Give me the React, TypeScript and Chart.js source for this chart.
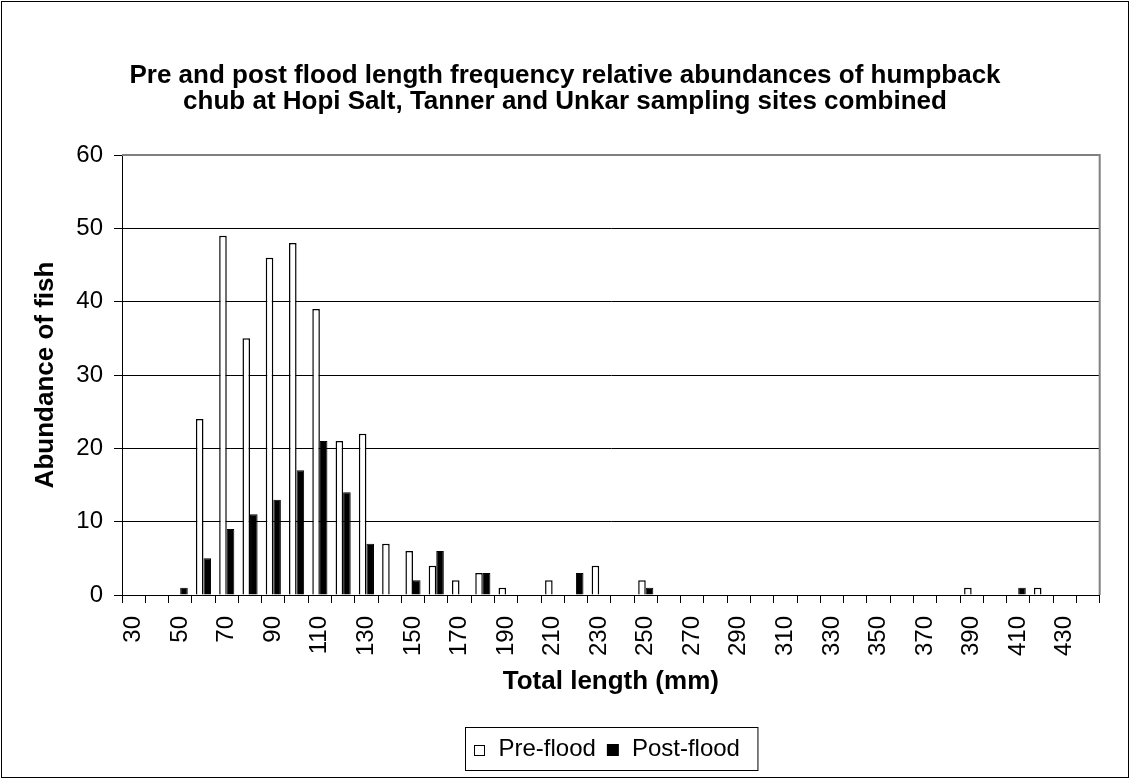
import React, { useEffect, useRef } from 'react';
import { Chart, registerables } from 'chart.js';

Chart.register(...registerables);

const lengthClasses = [30, 40, 50, 60, 70, 80, 90, 100, 110, 120, 130, 140, 150, 160, 170, 180, 190, 200, 210, 220, 230, 240, 250, 260, 270, 280, 290, 300, 310, 320, 330, 340, 350, 360, 370, 380, 390, 400, 410, 420, 430, 440];
const preFlood = [0, 0, 0, 24, 49, 35, 46, 48, 39, 21, 22, 7, 6, 4, 2, 3, 1, 0, 2, 0, 4, 0, 2, 0, 0, 0, 0, 0, 0, 0, 0, 0, 0, 0, 0, 0, 1, 0, 0, 1, 0, 0];
const postFlood = [0, 0, 1, 5, 9, 11, 13, 17, 21, 14, 7, 0, 2, 6, 0, 3, 0, 0, 0, 3, 0, 0, 1, 0, 0, 0, 0, 0, 0, 0, 0, 0, 0, 0, 0, 0, 0, 0, 1, 0, 0, 0];
const yTickValues = [0, 10, 20, 30, 40, 50, 60];
const seriesNames = ['Pre-flood', 'Post-flood'];
const titleLines = [
  'Pre and post flood length frequency relative abundances of humpback',
  'chub at Hopi Salt, Tanner and Unkar sampling sites combined',
];
const xTitle = 'Total length (mm)';
const yTitle = 'Abundance of fish';

const FONT = "'Liberation Sans', Arial, sans-serif";

const framePlugin = {
  id: 'frame',
  afterDraw(chart: any) {
    const { ctx, chartArea } = chart;
    const { left, right, top, bottom } = chartArea;
    ctx.save();
    // plot area top/right border
    ctx.strokeStyle = '#808080';
    ctx.lineWidth = 2;
    ctx.beginPath();
    ctx.moveTo(left, top);
    ctx.lineTo(right, top);
    ctx.lineTo(right, bottom);
    ctx.stroke();
    // outer border
    ctx.strokeStyle = '#000';
    ctx.lineWidth = 1;
    ctx.strokeRect(1.5, 1.5, chart.width - 3, chart.height - 3);

    // chart title
    ctx.fillStyle = '#000';
    ctx.textAlign = 'center';
    ctx.textBaseline = 'middle';
    ctx.font = `bold 26px ${FONT}`;
    ctx.fillText(titleLines[0], chart.width / 2, 76);
    ctx.fillText(titleLines[1], chart.width / 2, 102);

    // legend
    ctx.font = `24px ${FONT}`;
    const w1 = ctx.measureText(seriesNames[0]).width;
    const w2 = ctx.measureText(seriesNames[1]).width;
    const box = 11;
    const padL = 8;
    const gapBoxText = 14;
    const gapItems = 11;
    const padR = 18;
    const lw = padL + box + gapBoxText + w1 + gapItems + box + gapBoxText + w2 + padR;
    const cx = (left + right) / 2;
    const lx = Math.round(cx - lw / 2) + 0.5;
    const ly = 727.5;
    const lh = 43;
    ctx.strokeStyle = '#000';
    ctx.lineWidth = 1;
    ctx.strokeRect(lx, ly, lw, lh);
    const my = ly + lh / 2;
    let x = lx + padL;
    ctx.fillStyle = '#fff';
    ctx.fillRect(x, my - 4, box, box);
    ctx.strokeRect(Math.round(x) + 0.5, Math.round(my - 4) + 0.5, box - 1, box - 1);
    x += box + gapBoxText;
    ctx.fillStyle = '#000';
    ctx.textAlign = 'left';
    ctx.textBaseline = 'middle';
    ctx.fillText(seriesNames[0], x, my);
    x += w1 + gapItems;
    ctx.fillRect(x, my - 5, box + 1, box + 1);
    x += box + 1 + gapBoxText - 1;
    ctx.fillText(seriesNames[1], x, my);
    ctx.restore();
  },
};

export default function App() {
  const ref = useRef<HTMLCanvasElement | null>(null);
  useEffect(() => {
    if (!ref.current) return;
    const chart = new Chart(ref.current, {
      type: 'bar',
      data: {
        labels: lengthClasses.map(String),
        datasets: [
          {
            label: seriesNames[0],
            data: preFlood,
            backgroundColor: '#ffffff',
            borderColor: '#000000',
            borderWidth: 1.5,
            categoryPercentage: 0.65,
            barPercentage: 1,
          },
          {
            label: seriesNames[1],
            data: postFlood,
            backgroundColor: '#000000',
            borderColor: '#000000',
            borderWidth: 1,
            categoryPercentage: 0.65,
            barPercentage: 1,
          },
        ],
      },
      options: {
        animation: false,
        responsive: false,
        maintainAspectRatio: false,
        layout: { padding: { left: 2, right: 13, top: 155, bottom: 70 } },
        plugins: {
          legend: { display: false },
          tooltip: { enabled: false },
          title: { display: false },
        },
        scales: {
          x: {
            offset: true,
            grid: {
              display: true,
              offset: true,
              drawOnChartArea: false,
              drawTicks: true,
              tickLength: 8,
              color: '#000',
              tickColor: '#000',
            },
            border: { display: true, color: '#000', width: 1 },
            ticks: {
              autoSkip: false,
              minRotation: 90,
              maxRotation: 90,
              padding: 13,
              color: '#000',
              font: { family: FONT, size: 24 },
              callback: (_v: any, i: number) => (i % 2 === 0 ? String(lengthClasses[i]) : ''),
            },
            title: {
              display: true,
              text: xTitle,
              color: '#000',
              font: { family: FONT, size: 26, weight: 'bold', lineHeight: 1.2 },
              padding: { top: 0, bottom: 12 },
            },
            afterFit: (s: any) => {
              s.height = 114;
            },
          },
          y: {
            min: 0,
            max: 60,
            afterBuildTicks: (s: any) => {
              s.ticks = yTickValues.map((v) => ({ value: v }));
            },
            grid: {
              color: (c: any) => (c.tick && c.tick.value === 60 ? '#808080' : '#000'),
              tickColor: '#000',
              tickLength: 8,
              lineWidth: 1,
            },
            border: { display: true, color: '#000', width: 1 },
            ticks: {
              padding: 11,
              color: '#000',
              font: { family: FONT, size: 24 },
            },
            title: {
              display: true,
              text: yTitle,
              color: '#000',
              font: { family: FONT, size: 26, weight: 'bold', lineHeight: 1.2 },
              padding: { top: 28, bottom: 0 },
            },
            afterFit: (s: any) => {
              s.width = 120;
            },
          },
        },
      },
      plugins: [framePlugin],
    });
    return () => chart.destroy();
  }, []);

  return (
    <div style={{ position: 'absolute', left: 0, top: 0, width: 1130, height: 779, background: '#fff' }}>
      <canvas ref={ref} width={1130} height={779} style={{ display: 'block' }} />
    </div>
  );
}
